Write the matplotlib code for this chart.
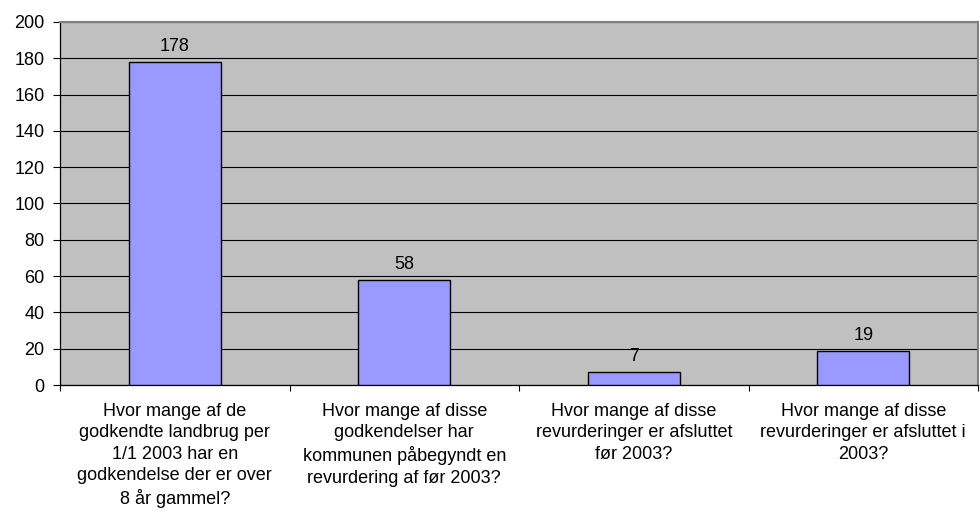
import matplotlib.pyplot as plt
import numpy as np

plt.rcParams['font.family'] = ['Liberation Sans', 'DejaVu Sans']

questions = [
    "Hvor mange af de\ngodkendte landbrug per\n1/1 2003 har en\ngodkendelse der er over\n8 år gammel?",
    "Hvor mange af disse\ngodkendelser har\nkommunen påbegyndt en\nrevurdering af før 2003?",
    "Hvor mange af disse\nrevurderinger er afsluttet\nfør 2003?",
    "Hvor mange af disse\nrevurderinger er afsluttet i\n2003?",
]
counts = [178, 58, 7, 19]
y_ticks = list(range(0, 201, 20))

FS = 13

fig = plt.figure(figsize=(9.8, 5.11), dpi=100)
ax = fig.add_axes([60 / 980, 126 / 511, 918 / 980, 363 / 511])
ax.set_facecolor('#C0C0C0')

x = np.arange(len(counts))
ax.bar(x, counts, width=0.4, color='#9999FF', edgecolor='black', linewidth=1, zorder=3)
for xi, c in zip(x, counts):
    ax.annotate(str(c), (xi, c), xytext=(0, 5), textcoords='offset points',
                ha='center', va='bottom', fontsize=FS)

ax.set_xlim(-0.5, len(counts) - 0.5)
ax.set_ylim(0, 200)
ax.set_yticks(y_ticks)
ax.yaxis.grid(True, color='black', linewidth=0.8, zorder=0)
ax.set_axisbelow(True)

# category labels sit under the bars, tick marks between categories
ax.set_xticks(x)
ax.set_xticklabels(questions, fontsize=FS, linespacing=1.33)
ax.set_xticks(np.arange(len(counts) + 1) - 0.5, minor=True)
ax.tick_params(axis='x', which='major', length=0, pad=13)
ax.tick_params(axis='x', which='minor', length=4, width=0.8, direction='out')
ax.tick_params(axis='y', length=5, width=0.8, direction='out', labelsize=FS, pad=6)

for side in ['top', 'right']:
    ax.spines[side].set_color('#808080')
    ax.spines[side].set_linewidth(1.5)
for side in ['left', 'bottom']:
    ax.spines[side].set_color('black')
    ax.spines[side].set_linewidth(0.9)

fig.savefig('out.png', dpi=100)
